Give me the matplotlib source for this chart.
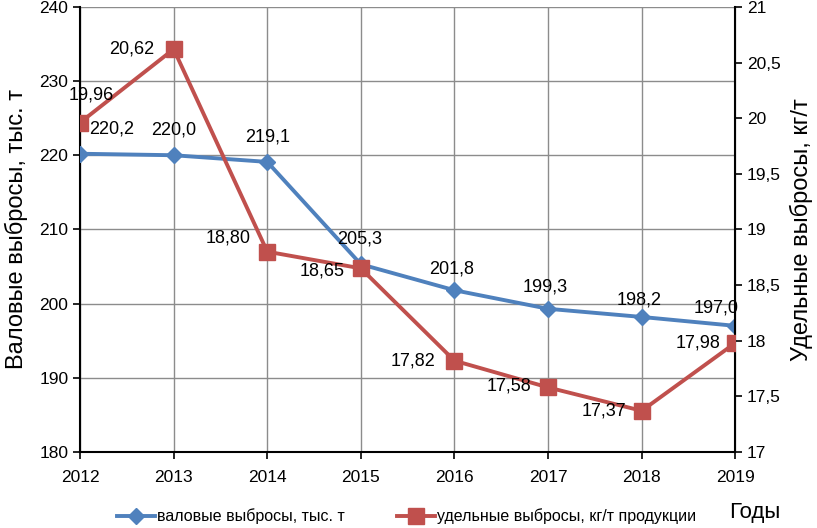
import matplotlib.pyplot as plt
from matplotlib import font_manager

names = {f.name for f in font_manager.fontManager.ttflist}
narrow = 'Liberation Sans Narrow' if 'Liberation Sans Narrow' in names else 'Liberation Sans'
plt.rcParams['font.family'] = [narrow, 'DejaVu Sans']

years = [2012, 2013, 2014, 2015, 2016, 2017, 2018, 2019]
gross = [220.2, 220.0, 219.1, 205.3, 201.8, 199.3, 198.2, 197.0]
specific = [19.96, 20.62, 18.80, 18.65, 17.82, 17.58, 17.37, 17.98]
gross_labels = ['220,2', '220,0', '219,1', '205,3', '201,8', '199,3', '198,2', '197,0']
spec_labels = ['19,96', '20,62', '18,80', '18,65', '17,82', '17,58', '17,37', '17,98']

blue = '#4F81BD'
red = '#C0504D'

fig = plt.figure(figsize=(8.17, 5.28), dpi=100)
ax = fig.add_axes([0.098, 0.144, 0.802, 0.843])
ax2 = ax.twinx()

l1, = ax.plot(years, gross, color=blue, lw=2.8, marker='D', ms=8, zorder=3,
              label='валовые выбросы, тыс. т')
l2, = ax2.plot(years, specific, color=red, lw=2.8, marker='s', ms=12, zorder=3,
               label='удельные выбросы, кг/т продукции')

ax.set_xlim(2012, 2019)
ax.set_ylim(180, 240)
ax2.set_ylim(17, 21)
ax.set_xticks(years)
ax.set_yticks(range(180, 241, 10))
ax2.set_yticks([17, 17.5, 18, 18.5, 19, 19.5, 20, 20.5, 21])
ax2.set_yticklabels(['17', '17,5', '18', '18,5', '19', '19,5', '20', '20,5', '21'])

ax.grid(True, color='#8c8c8c', lw=1)
ax.set_axisbelow(True)
for a in (ax, ax2):
    a.spines['top'].set_visible(False)
    a.tick_params(labelsize=12.5, length=5, width=1.2, color='black')
ax.spines['left'].set_linewidth(1.5)
ax.spines['bottom'].set_linewidth(1.5)
ax2.spines['right'].set_linewidth(1.5)
ax2.spines['left'].set_visible(False)
ax2.spines['bottom'].set_visible(False)
ax.tick_params(axis='x', pad=8)

ax.set_ylabel('Валовые выбросы, тыс. т', fontsize=17, labelpad=8)
ax2.set_ylabel('Удельные выбросы, кг/т', fontsize=17, labelpad=6)

# offsets in points for the data labels
g_off = [(23, 18), (0, 18), (0, 18), (-1, 18), (-2, 15), (-2, 16), (-2, 12), (-14, 13)]
s_off = [(8, 20), (-30, 0), (-28, 10), (-28, -2), (-30, 0), (-28, 1), (-27, 0), (-27, 0)]
for x, y, t, o in zip(years, gross, gross_labels, g_off):
    ax.annotate(t, (x, y), xytext=o, textcoords='offset points', ha='center', va='center',
                fontsize=13, zorder=5)
for x, y, t, o in zip(years, specific, spec_labels, s_off):
    ax2.annotate(t, (x, y), xytext=o, textcoords='offset points', ha='center', va='center',
                 fontsize=13, zorder=5)

fig.legend(handles=[l1, l2], loc='center left', bbox_to_anchor=(0.135, 0.022), ncol=2,
           frameon=False, fontsize=11.5, handlelength=2.4, handletextpad=0.1,
           columnspacing=3.3, borderaxespad=0)
fig.text(0.893, 0.03, 'Годы', fontsize=16, va='center')

fig.savefig('out.png', dpi=100)
